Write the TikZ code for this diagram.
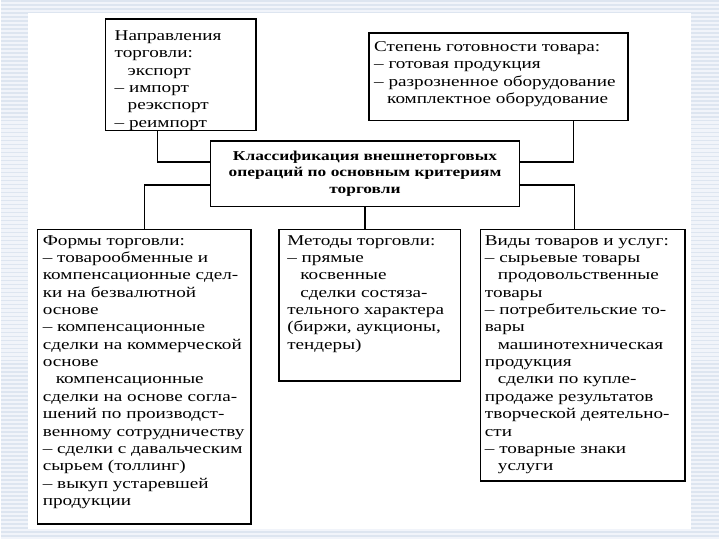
\documentclass[tikz,border=0pt]{standalone}
\usepackage{fontspec}
\setmainfont{Liberation Serif}[FakeStretch=1.28]
\usetikzlibrary{calc}
\definecolor{stripe}{HTML}{DDE5F0}
\definecolor{bgblue}{HTML}{F1F4FA}
\begin{document}
\begin{tikzpicture}[x=1pt,y=-1pt,
  box/.style={draw=black, line width=1.6pt, fill=white, inner sep=0pt, anchor=north west},
  txt/.style={anchor=north west, align=left, inner sep=0pt, font=\fontsize{15}{17.4}\selectfont},
  conn/.style={draw=black, line width=1.6pt}]
\fill[bgblue] (0,0) rectangle (720,540);
\foreach \y in {1,5,...,540} \draw[stripe, line width=1.5pt] (0,\y) -- (720,\y);
\fill[white] (27,13) rectangle (692,530);
\useasboundingbox (0,0) rectangle (720,540);

\node[box, minimum width=151pt, minimum height=112pt] (b1) at (104,18) {};
\node[box, minimum width=260pt, minimum height=88pt] (b2) at (368,32) {};
\node[box, anchor=center, minimum width=310pt, minimum height=66pt, align=center,
      font=\bfseries\fontsize{13.6}{16.5}\selectfont] (c) at (365,174)
      {Классификация внешнеторговых\\операций по основным критериям\\торговли};
\node[box, minimum width=214pt, minimum height=295pt] (bL) at (36,229) {};
\node[box, minimum width=182pt, minimum height=152pt] (bM) at (278,229) {};
\node[box, minimum width=205pt, minimum height=252pt] (bR) at (480,229) {};

\node[txt] (t1) at ($(b1.north west)+(10,12.5)$)
  {Направления\\торговли:\\\hspace*{13pt}экспорт\\– импорт\\\hspace*{13pt}реэкспорт\\– реимпорт};
\node[txt] (t2) at ($(b2.north west)+(6,9.5)$)
  {Степень готовности товара:\\– готовая продукция\\– разрозненное оборудование\\\hspace*{13pt}комплектное оборудование};
\node[txt] (tL) at ($(bL.north west)+(6,6.5)$)
  {Формы торговли:\\– товарообменные и\\компенсационные сдел-\\ки на безвалютной\\основе\\– компенсационные\\сделки на коммерческой\\основе\\\hspace*{13pt}компенсационные\\сделки на основе согла-\\шений по производст-\\венному сотрудничеству\\– сделки с давальческим\\сырьем (толлинг)\\– выкуп устаревшей\\продукции};
\node[txt] (tM) at ($(bM.north west)+(9,6.5)$)
  {Методы торговли:\\– прямые\\\hspace*{13pt}косвенные\\\hspace*{13pt}сделки состяза-\\тельного характера\\(биржи, аукционы,\\тендеры)};
\node[txt] (tR) at ($(bR.north west)+(5,6.5)$)
  {Виды товаров и услуг:\\– сырьевые товары\\\hspace*{13pt}продовольственные\\товары\\– потребительские то-\\вары\\\hspace*{13pt}машинотехническая\\продукция\\\hspace*{13pt}сделки по купле-\\продаже результатов\\творческой деятельно-\\сти\\– товарные знаки\\\hspace*{13pt}услуги};

\draw[conn] ($(b1.south west)+(53,0)$) |- ($(c.west)+(0,-11.5)$);
\draw[conn] ($(c.west)+(0,11.5)$) -| ($(bL.north west)+(108,0)$);
\draw[conn] ($(b2.south west)+(206,0)$) |- ($(c.east)+(0,-11.5)$);
\draw[conn] ($(c.east)+(0,11.5)$) -| ($(bR.north west)+(95,0)$);
\draw[conn] (c.south) -- (c.south |- bM.north);
\end{tikzpicture}
\end{document}
